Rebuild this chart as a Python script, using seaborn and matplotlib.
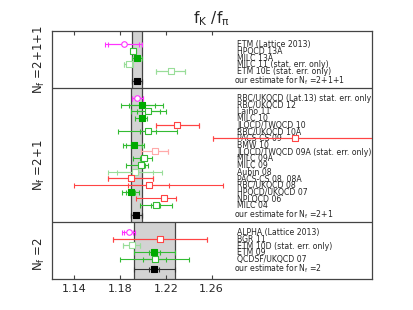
import numpy as np
import pandas as pd
import matplotlib
matplotlib.use("Agg")
import matplotlib.pyplot as plt
import seaborn as sns
from matplotlib.transforms import blended_transform_factory

sns.set_style("ticks")
plt.rcParams["font.family"] = ["DejaVu Sans"]

# ---------------- data ----------------
# Nf = 2+1+1
labels_4 = ["ETM (Lattice 2013)", "HPQCD 13A", "MILC 13A",
            "MILC 11 (stat. err. only)", "ETM 10E (stat. err. only)"]
values_4 = [1.1829, 1.1916, 1.1949, 1.1873, 1.2241]
stat_4 = [0.0135, 0.0015, 0.0026, 0.0042, 0.0130]
totlo_4 = [0.0165, 0.0022, 0.0045, 0.0042, 0.0130]
tothi_4 = [0.0165, 0.0022, 0.0045, 0.0042, 0.0130]
kinds_4 = ["prelim", "open", "filled", "open_light", "open_light"]
est_4 = 1.1946
esterr_4 = 0.0045

# Nf = 2+1
labels_3 = ["RBC/UKQCD (Lat.13) stat. err. only", "RBC/UKQCD 12", "Laiho 11",
            "MILC 10", "JLQCD/TWQCD 10", "RBC/UKQCD 10A", "PACS-CS 09", "BMW 10",
            "JLQCD/TWQCD 09A (stat. err. only)", "MILC 09A", "MILC 09", "Aubin 08",
            "PACS-CS 08, 08A", "RBC/UKQCD 08", "HPQCD/UKQCD 07", "NPLQCD 06", "MILC 04"]
values_3 = [1.1950, 1.1990, 1.2045, 1.1993, 1.2300, 1.2040, 1.3330, 1.1920,
            1.2100, 1.2005, 1.1985, 1.1930, 1.1890, 1.2050, 1.1890, 1.2180, 1.2110]
stat_3 = [0.0047, 0.0117, 0.0100, 0.0020, 0.0190, 0.0070, 0.0720, 0.0070,
          0.0120, 0.0030, 0.0030, 0.0160, 0.0195, 0.0180, 0.0040, 0.0020, 0.0040]
totlo_3 = [0.0047, 0.0186, 0.0155, 0.0067, 0.0190, 0.0260, 0.0720, 0.0092,
           0.0120, 0.0090, 0.0130, 0.0235, 0.0195, 0.0650, 0.0070, 0.0240, 0.0140]
tothi_3 = [0.0047, 0.0186, 0.0155, 0.0040, 0.0190, 0.0260, 0.0720, 0.0092,
           0.0120, 0.0070, 0.0060, 0.0235, 0.0195, 0.0650, 0.0070, 0.0110, 0.0140]
kinds_3 = ["prelim", "filled", "open", "filled", "red", "open", "red", "filled",
           "red_light", "open", "open", "open_light", "red", "red", "filled", "red", "open"]
est_3 = 1.1940
esterr_3 = 0.0047

# Nf = 2
labels_2 = ["ALPHA (Lattice 2013)", "BGR 11", "ETM 10D (stat. err. only)",
            "ETM 09", "QCDSF/UKQCD 07"]
values_2 = [1.1873, 1.2148, 1.1900, 1.2098, 1.2100]
stat_2 = [0.0040, 0.0410, 0.0075, 0.0047, 0.0100]
totlo_2 = [0.0060, 0.0410, 0.0075, 0.0180, 0.0300]
tothi_2 = [0.0060, 0.0410, 0.0075, 0.0180, 0.0300]
kinds_2 = ["prelim", "red", "open_light", "filled", "open"]
est_2 = 1.2098
esterr_2 = 0.0180
eststat_2 = 0.0045

section_names = [r"$\mathrm{N_f}$ =2+1+1", r"$\mathrm{N_f}$ =2+1", r"$\mathrm{N_f}$ =2"]
estimate_texts = [r"our estimate for $\mathrm{N_f}$ =2+1+1",
                  r"our estimate for $\mathrm{N_f}$ =2+1",
                  r"our estimate for $\mathrm{N_f}$ =2"]
xticks = [1.14, 1.18, 1.22, 1.26]

# ---------------- styles ----------------
styles = {
    "filled":     dict(marker="s", face="#00aa00", edge="#00aa00", line="#33bb33"),
    "open":       dict(marker="s", face="white",   edge="#33bb33", line="#33bb33"),
    "open_light": dict(marker="s", face="white",   edge="#99dd99", line="#99dd99"),
    "red":        dict(marker="s", face="white",   edge="#ff4444", line="#ff4444"),
    "red_light":  dict(marker="s", face="white",   edge="#ffaaaa", line="#ffaaaa"),
    "prelim":     dict(marker="o", face="white",   edge="#ff33ff", line="#ff33ff"),
    "estimate":   dict(marker="s", face="black",   edge="black",   line="#333333"),
}

sections = [
    (labels_4, values_4, stat_4, totlo_4, tothi_4, kinds_4, est_4, esterr_4, esterr_4),
    (labels_3, values_3, stat_3, totlo_3, tothi_3, kinds_3, est_3, esterr_3, esterr_3),
    (labels_2, values_2, stat_2, totlo_2, tothi_2, kinds_2, est_2, esterr_2, eststat_2),
]

# ---------------- build a table with layout positions ----------------
rows = []
bands = []
seps = []
pos = 2.0
sec_start = 0.0
for si, (labs, vals, st, tlo, thi, kinds, est, eerr, estat) in enumerate(sections):
    for lab, v, s, lo, hi, k in zip(labs, vals, st, tlo, thi, kinds):
        rows.append(dict(label=lab, value=v, stat=s, totlo=lo, tothi=hi, kind=k, pos=pos, est=False))
        pos += 1.0
    pos += 0.5
    rows.append(dict(label=estimate_texts[si], value=est, stat=estat, totlo=eerr, tothi=eerr,
                     kind="estimate", pos=pos, est=True))
    sec_end = pos + 1.0
    bands.append((est - eerr, est + eerr, sec_start, sec_end))
    if si < len(sections) - 1:
        seps.append(sec_end)
    sec_start = sec_end
    pos = sec_end + 1.5
ymax = 37.0
bands[-1] = (bands[-1][0], bands[-1][1], bands[-1][2], ymax)
df = pd.DataFrame(rows)

# ---------------- figure ----------------
fig = plt.figure(figsize=(4.13, 3.10), dpi=100)
ax = fig.add_axes([0.125, 0.1, 0.775, 0.801])
ax.set_xlim(1.12, 1.40)
ax.set_ylim(ymax, 0)

for lo, hi, y0, y1 in bands:
    ax.fill_betweenx([y0, y1], lo, hi, color="#d3d3d3", lw=0, zorder=0)
    ax.vlines([lo, hi], y0, y1, color="#444444", lw=0.9, zorder=1)
for y in seps:
    ax.axhline(y, color="#444444", lw=0.9, zorder=1)

for _, r in df.iterrows():
    st = styles[r["kind"]]
    ax.errorbar(r["value"], r["pos"], xerr=[[r["totlo"]], [r["tothi"]]], fmt="none",
                ecolor=st["line"], elinewidth=0.8, capsize=1.8, capthick=0.8, zorder=3)
    ax.errorbar(r["value"], r["pos"], xerr=r["stat"], fmt="none",
                ecolor=st["line"], elinewidth=0.8, capsize=1.8, capthick=0.8, zorder=3)

for kind, sub in df.groupby("kind"):
    st = styles[kind]
    sns.scatterplot(data=sub, x="value", y="pos", marker=st["marker"], s=16,
                    color=st["face"], edgecolor=st["edge"], linewidth=0.8,
                    ax=ax, zorder=4, legend=False)

for _, r in df.iterrows():
    if r["est"]:
        ax.text(1.2795, r["pos"], r["label"], fontsize=5.6, va="center", ha="left", zorder=1)
    else:
        ax.text(1.2825, r["pos"] + 0.1, r["label"], fontsize=5.6, va="center", ha="left", zorder=1)

trans = blended_transform_factory(ax.transAxes, ax.transData)
label_pos = [4.3, 20.0, 33.2]
for name, yc in zip(section_names, label_pos):
    ax.text(-0.038, yc, name, rotation=90, transform=trans, ha="center", va="center", fontsize=8.5)

ax.set_xticks(xticks)
ax.set_xticklabels([f"{t:.2f}" for t in xticks], fontsize=8)
ax.set_yticks([])
ax.tick_params(axis="x", direction="in", top=True, length=3, width=0.8, color="#444444")
for sp in ax.spines.values():
    sp.set_color("#444444")
    sp.set_linewidth(0.9)
ax.set_xlabel("")
ax.set_ylabel("")
ax.set_title(r"$\mathrm{f_K}\ /\mathrm{f_\pi}$", fontsize=11, pad=5)

fig.savefig("out.png", dpi=100)
